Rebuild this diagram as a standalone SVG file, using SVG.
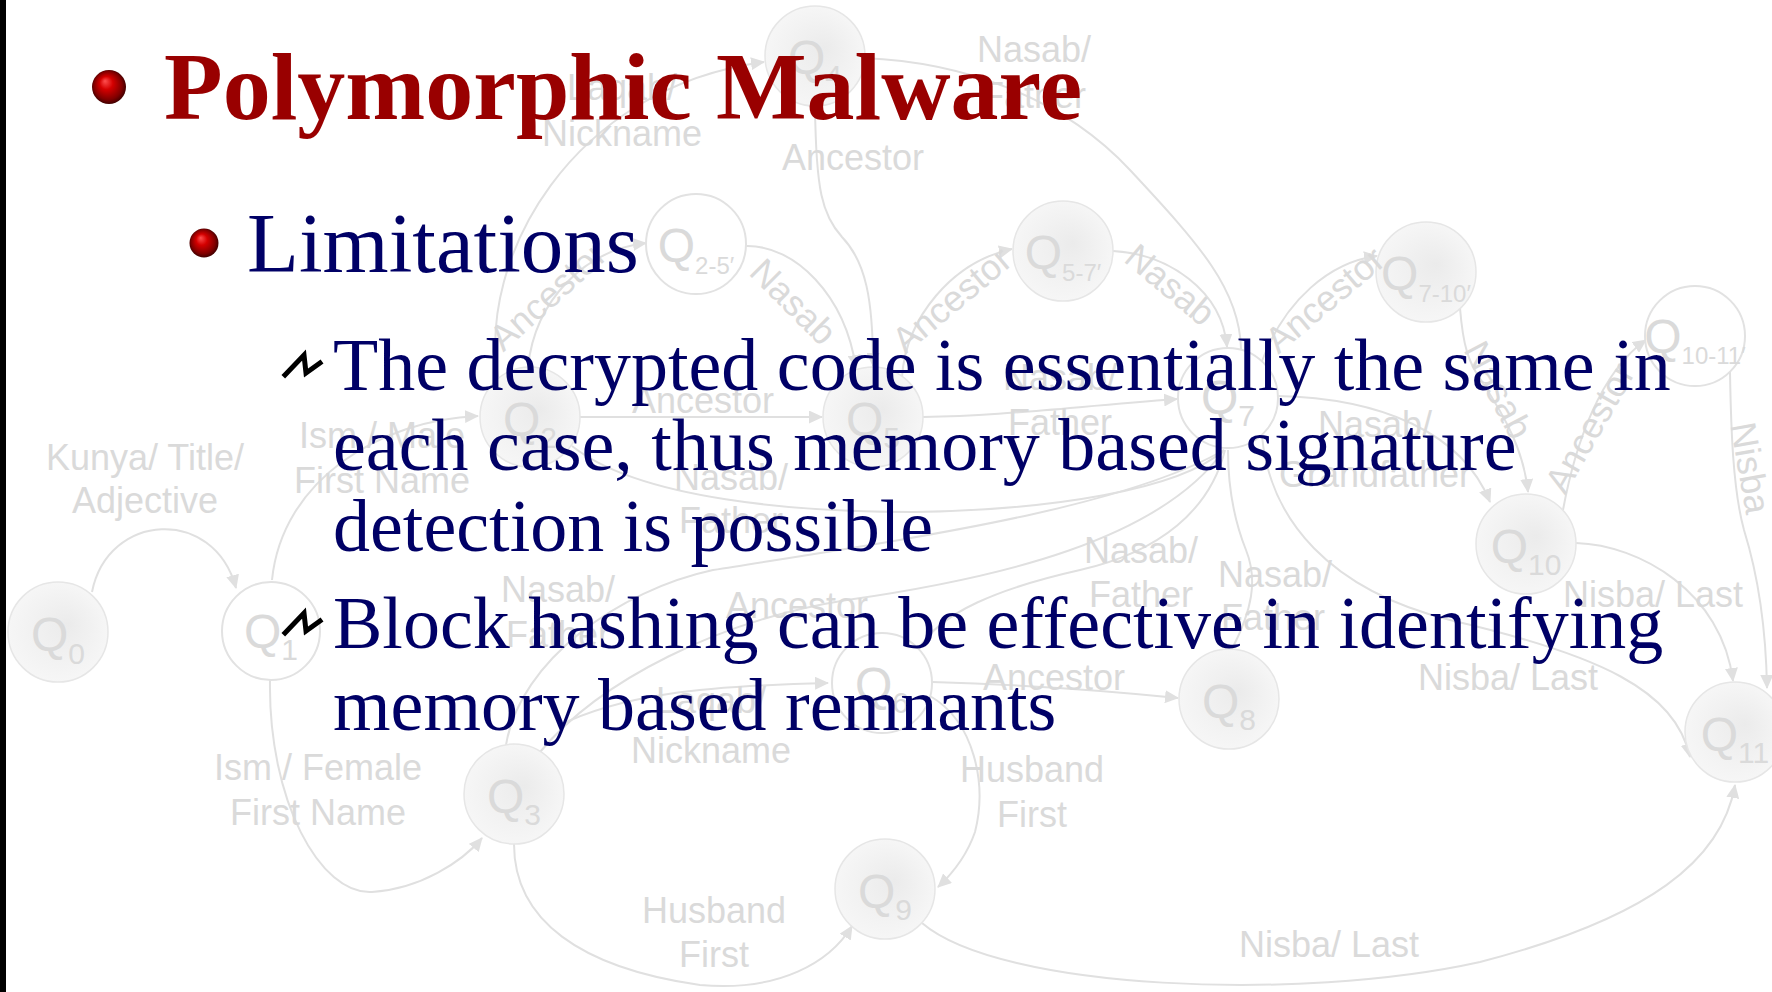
<svg xmlns="http://www.w3.org/2000/svg" width="1772" height="992" viewBox="0 0 1772 992">
  <defs>
    <style>
      .edge { fill: none; stroke: #e0e0e0; stroke-width: 2; }
      .lbl text { font-family: "Liberation Sans", Arial, sans-serif; font-size: 36px; fill: #dadada; text-anchor: middle; }
      .node-f { fill: url(#nodeFill); stroke: #e6e6e6; stroke-width: 1.5; }
      .node-o { fill: #ffffff; stroke: #e2e2e2; stroke-width: 2; }
      .qlab { font-family: "Liberation Sans", Arial, sans-serif; font-size: 48px; fill: #dadada; text-anchor: middle; }
      .sub { font-size: 30px; }
      .subp { font-size: 24px; }
      .title { font-family: "Liberation Serif", "Times New Roman", serif; font-weight: bold; font-size: 96px; fill: #990000; }
      .h2 { font-family: "Liberation Serif", "Times New Roman", serif; font-size: 85px; fill: #000066; }
      .body { font-family: "Liberation Serif", "Times New Roman", serif; font-size: 74px; fill: #000066; }
    </style>
    <radialGradient id="nodeFill" cx="0.5" cy="0.5" r="0.5" fx="0.6" fy="0.42">
      <stop offset="0" stop-color="#ebebeb"/>
      <stop offset="1" stop-color="#f6f6f6"/>
    </radialGradient>
    <radialGradient id="redBall" cx="0.5" cy="0.5" r="0.55" fx="0.38" fy="0.32">
      <stop offset="0" stop-color="#ff5050"/>
      <stop offset="0.35" stop-color="#d40000"/>
      <stop offset="0.75" stop-color="#800000"/>
      <stop offset="1" stop-color="#2a0000"/>
    </radialGradient>
    <marker id="arr" markerUnits="userSpaceOnUse" markerWidth="14" markerHeight="13" refX="13" refY="6.5" orient="auto">
      <path d="M0,0 L14,6.5 L0,13 Z" fill="#e0e0e0"/>
    </marker>
    <!-- scribble bullet used for the third-level items -->
    <g id="zig">
      <path d="M285 375 L304 355 L306 373 L320 363" fill="none" stroke="#000" stroke-width="5" stroke-linejoin="miter" stroke-linecap="square"/>
    </g>
  </defs>

  <rect x="0" y="0" width="1772" height="992" fill="#ffffff"/>
  <rect x="0" y="0" width="6" height="992" fill="#000000"/>

  <!-- transitions of the name automaton -->
  <g id="connectors">
    <path class="edge" marker-end="url(#arr)" d="M92 592 C108 512 214 506 236 588"/>
    <path class="edge" marker-end="url(#arr)" d="M272 580 C282 480 380 420 478 416"/>
    <path class="edge" marker-end="url(#arr)" d="M270 680 C268 800 320 895 372 892 C420 889 462 862 482 838"/>
    <path class="edge" marker-end="url(#arr)" d="M498 377 C478 260 570 88 764 62"/>
    <path class="edge" marker-end="url(#arr)" d="M528 367 C535 300 585 250 646 243"/>
    <path class="edge" marker-end="url(#arr)" d="M580 417 L822 417"/>
    <path class="edge" marker-end="url(#arr)" d="M815 106 C816 190 822 215 842 237 C866 262 873 300 873 366"/>
    <path class="edge" marker-end="url(#arr)" d="M746 246 C795 245 845 295 856 368"/>
    <path class="edge" marker-end="url(#arr)" d="M902 377 C906 318 952 262 1012 249"/>
    <path class="edge" marker-end="url(#arr)" d="M1113 251 C1168 254 1222 290 1227 347"/>
    <path class="edge" d="M864 58 C960 62 1060 95 1130 170 C1200 245 1240 290 1241 349"/>
    <path class="edge" marker-end="url(#arr)" d="M923 417 C1000 416 1060 408 1177 399"/>
    <path class="edge" marker-end="url(#arr)" d="M1262 361 C1285 300 1330 262 1377 256"/>
    <path class="edge" marker-end="url(#arr)" d="M1460 308 C1463 345 1468 362 1482 382 C1506 418 1524 452 1528 492"/>
    <path class="edge" marker-end="url(#arr)" d="M1277 396 C1380 398 1462 432 1490 502"/>
    <path class="edge" marker-end="url(#arr)" d="M1563 510 C1575 445 1600 372 1646 340"/>
    <path class="edge" marker-end="url(#arr)" d="M1730 372 C1731 430 1733 490 1744 530 C1758 575 1766 630 1767 688"/>
    <path class="edge" marker-end="url(#arr)" d="M1576 543 C1640 545 1722 592 1733 681"/>
    <path class="edge" marker-end="url(#arr)" d="M1262 436 C1270 520 1330 590 1450 620 C1600 655 1675 690 1690 757"/>
    <path class="edge" d="M572 446 C640 500 800 512 913 512 C1050 510 1180 490 1224 450"/>
    <path class="edge" d="M506 745 C520 660 620 590 713 570 C900 540 1120 510 1224 450"/>
    <path class="edge" d="M540 752 C600 680 720 620 847 600 C1000 578 1160 540 1224 450"/>
    <path class="edge" d="M918 650 C940 612 1000 588 1080 570 C1160 552 1210 510 1225 450"/>
    <path class="edge" d="M1232 649 C1252 610 1258 580 1246 550 C1234 520 1228 490 1228 450"/>
    <path class="edge" marker-end="url(#arr)" d="M558 726 C620 695 700 686 828 683"/>
    <path class="edge" marker-end="url(#arr)" d="M932 682 C1000 684 1100 690 1178 698"/>
    <path class="edge" marker-end="url(#arr)" d="M930 696 C975 722 987 785 975 832 C966 858 952 874 938 887"/>
    <path class="edge" marker-end="url(#arr)" d="M514 844 C514 920 580 968 700 985 C780 992 830 962 852 926"/>
    <path class="edge" marker-end="url(#arr)" d="M922 923 C1000 990 1300 1002 1480 962 C1650 918 1722 860 1735 785"/>
  </g>

  <!-- states -->
  <g id="q0"><circle class="node-f" cx="58" cy="632" r="50"/><text class="qlab" x="58" y="651">Q<tspan class="sub" dy="13">0</tspan></text></g>
  <g id="q1"><circle class="node-o" cx="271" cy="631" r="49"/><text class="qlab" x="271" y="648">Q<tspan class="sub" dy="12">1</tspan></text></g>
  <g id="q2"><circle class="node-f" cx="530" cy="417" r="50"/><text class="qlab" x="530" y="436">Q<tspan class="sub" dy="12">2</tspan></text></g>
  <g id="q2-5"><circle class="node-o" cx="696" cy="244" r="50"/><text class="qlab" x="696" y="262">Q<tspan class="subp" dy="12">2-5′</tspan></text></g>
  <g id="q3"><circle class="node-f" cx="514" cy="794" r="50"/><text class="qlab" x="514" y="813">Q<tspan class="sub" dy="12">3</tspan></text></g>
  <g id="q4"><circle class="node-f" cx="815" cy="56" r="50"/><text class="qlab" x="815" y="74">Q<tspan class="sub" dy="12">4</tspan></text></g>
  <g id="q5"><circle class="node-f" cx="873" cy="417" r="50"/><text class="qlab" x="873" y="436">Q<tspan class="sub" dy="12">5</tspan></text></g>
  <g id="q5-7"><circle class="node-f" cx="1063" cy="251" r="50"/><text class="qlab" x="1063" y="269">Q<tspan class="subp" dy="12">5-7′</tspan></text></g>
  <g id="q6"><circle class="node-o" cx="882" cy="683" r="50"/><text class="qlab" x="882" y="701">Q<tspan class="sub" dy="12">6</tspan></text></g>
  <g id="q7"><circle class="node-o" cx="1228" cy="398" r="50"/><text class="qlab" x="1228" y="414">Q<tspan class="sub" dy="12">7</tspan></text></g>
  <g id="q7-10"><circle class="node-f" cx="1426" cy="272" r="50"/><text class="qlab" x="1426" y="290">Q<tspan class="subp" dy="12">7-10′</tspan></text></g>
  <g id="q8"><circle class="node-f" cx="1229" cy="699" r="50"/><text class="qlab" x="1229" y="718">Q<tspan class="sub" dy="12">8</tspan></text></g>
  <g id="q9"><circle class="node-f" cx="885" cy="889" r="50"/><text class="qlab" x="885" y="908">Q<tspan class="sub" dy="12">9</tspan></text></g>
  <g id="q10"><circle class="node-f" cx="1526" cy="544" r="50"/><text class="qlab" x="1526" y="563">Q<tspan class="sub" dy="12">10</tspan></text></g>
  <g id="q10-11"><circle class="node-o" cx="1695" cy="336" r="50"/><text class="qlab" x="1695" y="353">Q<tspan class="subp" dy="11">10-11′</tspan></text></g>
  <g id="q11"><circle class="node-f" cx="1735" cy="732" r="50"/><text class="qlab" x="1735" y="751">Q<tspan class="sub" dy="12">11</tspan></text></g>

  <!-- transition labels -->
  <g id="edge-labels" class="lbl">
    <text x="145" y="470">Kunya/ Title/</text><text x="145" y="513">Adjective</text>
    <text x="382" y="448">Ism / Male</text><text x="382" y="493">First Name</text>
    <text x="318" y="780">Ism / Female</text><text x="318" y="825">First Name</text>
    <text x="622" y="100">Laqab/</text><text x="622" y="146">Nickname</text>
    <text transform="translate(548 296) rotate(-42)" y="12">Ancestor</text>
    <text x="853" y="170">Ancestor</text>
    <text transform="translate(793 302) rotate(45)" y="12">Nasab</text>
    <text x="703" y="413">Ancestor</text>
    <text x="731" y="490">Nasab/</text><text x="731" y="533">Father</text>
    <text transform="translate(952 300) rotate(-40)" y="12">Ancestor</text>
    <text transform="translate(1170 285) rotate(40)" y="12">Nasab</text>
    <text x="1034" y="62">Nasab/</text><text x="1034" y="108">Father</text>
    <text x="1060" y="390">Nasab/</text><text x="1060" y="435">Father</text>
    <text transform="translate(1325 300) rotate(-40)" y="12">Ancestor</text>
    <text transform="translate(1498 390) rotate(62)" y="12">Nasab</text>
    <text x="1375" y="437">Nasab/</text><text x="1375" y="487">Grandfather</text>
    <text transform="translate(1590 428) rotate(-60)" y="12">Ancestor</text>
    <text transform="translate(1750 468) rotate(80)" y="12">Nisba</text>
    <text x="1653" y="607">Nisba/ Last</text>
    <text x="1508" y="690">Nisba/ Last</text>
    <text x="558" y="602">Nasab/</text><text x="558" y="647">Father</text>
    <text x="797" y="618">Ancestor</text>
    <text x="711" y="713">Laqab/</text><text x="711" y="763">Nickname</text>
    <text x="1141" y="563">Nasab/</text><text x="1141" y="607">Father</text>
    <text x="1275" y="587">Nasab/</text><text x="1273" y="630">Father</text>
    <text x="1054" y="690">Ancestor</text>
    <text x="1032" y="782">Husband</text><text x="1032" y="827">First</text>
    <text x="714" y="923">Husband</text><text x="714" y="967">First</text>
    <text x="1329" y="957">Nisba/ Last</text>
  </g>

  <!-- slide text -->
  <g id="slide-text">
    <circle cx="109" cy="87" r="17" fill="url(#redBall)"/>
    <text class="title" x="164" y="119">Polymorphic Malware</text>
    <circle cx="204" cy="243" r="14.5" fill="url(#redBall)"/>
    <text class="h2" x="247" y="272">Limitations</text>
    <use href="#zig"/>
    <text class="body" x="333" y="390">The decrypted code is essentially the same in</text>
    <text class="body" x="333" y="470">each case, thus memory based signature</text>
    <text class="body" x="333" y="551">detection is possible</text>
    <use href="#zig" transform="translate(0 258)"/>
    <text class="body" x="333" y="648">Block hashing can be effective in identifying</text>
    <text class="body" x="333" y="730">memory based remnants</text>
  </g>
</svg>
